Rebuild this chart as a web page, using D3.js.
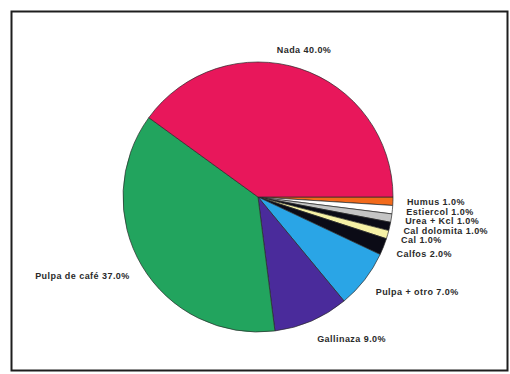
<!DOCTYPE html>
<html>
<head>
<meta charset="utf-8">
<script src="https://cdn.jsdelivr.net/npm/d3@7"></script>
<style>
  html, body { margin: 0; padding: 0; background: #fff; }
  svg { display: block; }
  .lbl { font-family: "Liberation Sans", Arial, sans-serif; font-size: 9px; font-weight: bold; letter-spacing: 0.45px; fill: #2a2a2a; }
</style>
</head>
<body>
<svg id="chart" width="510" height="374"></svg>
<script>
// Slices in drawing order, clockwise from 3 o'clock
const categories = ["Humus", "Estiercol", "Urea + Kcl", "Cal dolomita", "Cal", "Calfos",
                    "Pulpa + otro", "Gallinaza", "Pulpa de café", "Nada"];
const values = [1.0, 1.0, 1.0, 1.0, 1.0, 2.0, 7.0, 9.0, 37.0, 40.0];
const colors = ["#f26a1b", "#ffffff", "#c4c4c4", "#0b0b16", "#f6f1a6", "#0b0b16",
                "#2aa5e6", "#4a2b9b", "#22a45e", "#e8175b"];

const W = 510, H = 374;
const cx = 258, cy = 197, r = 135;

const svg = d3.select("#chart");

// outer frame
svg.append("rect")
  .attr("x", 11.5).attr("y", 11.5)
  .attr("width", 496).attr("height", 359)
  .attr("fill", "none")
  .attr("stroke", "#1e1e1e")
  .attr("stroke-width", 2);

const data = categories.map((c, i) => ({ name: c, value: values[i], color: colors[i] }));

const pie = d3.pie()
  .sort(null)
  .value(d => d.value)
  .startAngle(Math.PI / 2)
  .endAngle(Math.PI / 2 + 2 * Math.PI);

const arcs = pie(data);
const arc = d3.arc().innerRadius(0).outerRadius(r);

const g = svg.append("g").attr("transform", `translate(${cx},${cy})`);

g.selectAll("path.slice")
  .data(arcs)
  .join("path")
  .attr("class", "slice")
  .attr("d", arc)
  .attr("fill", d => d.data.color)
  .attr("stroke", "#2a2a2a")
  .attr("stroke-width", 0.7)
  .attr("stroke-linejoin", "round");

// labels placed just outside the rim at each slice's mid-angle
const labelR = r + 14;
const fmt = d3.format(".1f");

g.selectAll("text.lbl")
  .data(arcs)
  .join("text")
  .attr("class", "lbl")
  .each(function (d) {
    const a = (d.startAngle + d.endAngle) / 2;   // d3 angle: 0 at 12 o'clock, clockwise
    const sx = Math.sin(a), sy = -Math.cos(a);
    const x = labelR * sx;
    const y = labelR * sy + 6 * sy;
    const anchor = sx > 0.35 ? "start" : (sx < -0.35 ? "end" : "middle");
    d3.select(this)
      .attr("x", x)
      .attr("y", y)
      .attr("dy", "0.35em")
      .attr("text-anchor", anchor)
      .text(`${d.data.name}  ${fmt(d.data.value)}%`);
  });
</script>
</body>
</html>
